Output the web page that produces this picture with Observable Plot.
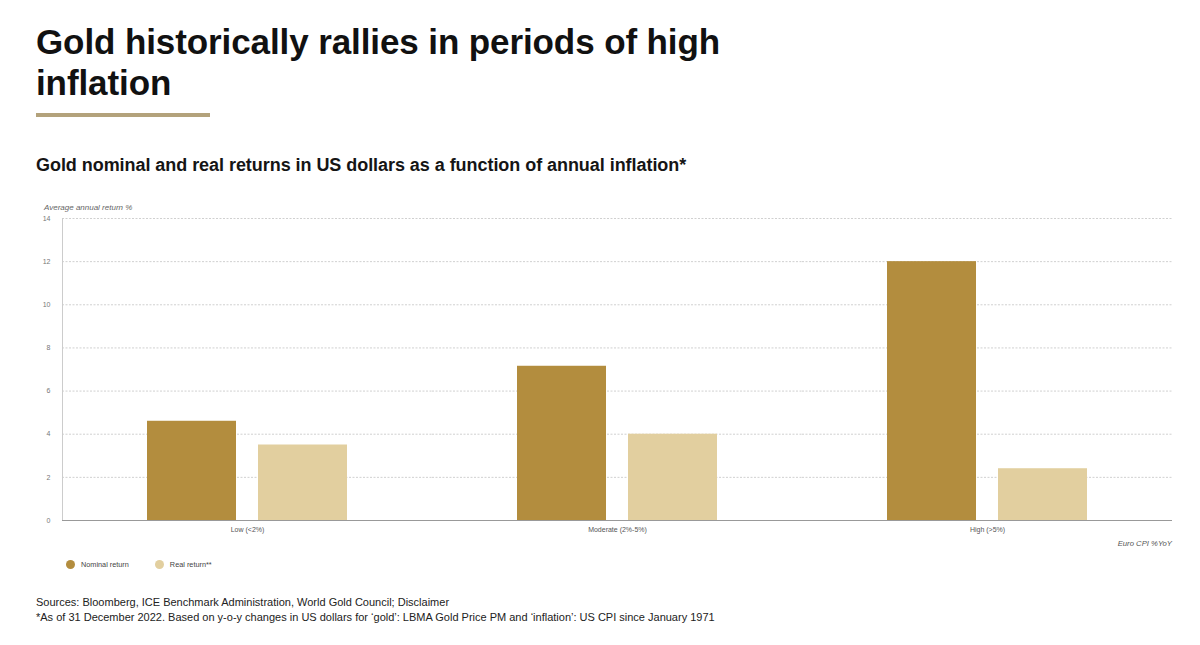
<!DOCTYPE html>
<html>
<head>
<meta charset="utf-8">
<script src="https://cdn.jsdelivr.net/npm/d3@7"></script>
<script src="https://cdn.jsdelivr.net/npm/@observablehq/plot@0.6"></script>
<style>
  html, body { margin: 0; padding: 0; background: #fff; }
  body { width: 1200px; height: 645px; position: relative; overflow: hidden; font-family: "Liberation Sans", Arial, sans-serif; color: #111; }
  .title { position: absolute; left: 36px; top: 21px; font-size: 35px; line-height: 41px; font-weight: bold; width: 720px; letter-spacing: -0.1px; }
  .rule { position: absolute; left: 36px; top: 113px; width: 174px; height: 4px; background: #b3a27b; }
  .subtitle { position: absolute; left: 36px; top: 155px; font-size: 18px; font-weight: bold; letter-spacing: -0.05px; color: #151515; }
  .ylab { position: absolute; left: 44px; top: 203px; font-size: 8px; font-style: italic; color: #666; }
  .xlab { position: absolute; right: 28px; top: 539px; font-size: 7.7px; font-style: italic; color: #555; }
  #chart { position: absolute; left: 0; top: 200px; }
  .legend { position: absolute; left: 66px; top: 560px; font-size: 7.3px; color: #444; display: flex; gap: 0; }
  .legend span.item { display: inline-flex; align-items: center; margin-right: 26px; }
  .legend span.sw { width: 9px; height: 9px; border-radius: 50%; display: inline-block; margin-right: 6px; }
  .notes { position: absolute; left: 36px; top: 595px; font-size: 11px; line-height: 15px; color: #222; }
</style>
</head>
<body>
<div class="title" id="title"></div>
<div class="rule"></div>
<div class="subtitle" id="subtitle"></div>
<div class="ylab" id="ylab"></div>
<div class="xlab" id="xlab"></div>
<div id="chart"></div>
<div class="legend" id="legend"></div>
<div class="notes" id="notes"></div>
<script>
const titleText = "Gold historically rallies in periods of high inflation";
const subtitleText = "Gold nominal and real returns in US dollars as a function of annual inflation*";
const yLabel = "Average annual return %";
const xLabel = "Euro CPI %YoY";
const groups = ["Low (<2%)", "Moderate (2%-5%)", "High (>5%)"];
const series = ["Nominal return", "Real return**"];
const nominal = [4.6, 7.15, 12.0];
const real = [3.5, 4.0, 2.4];
const colors = ["#b38d3e", "#e2cf9f"];
const yTicks = [0, 2, 4, 6, 8, 10, 12, 14];
const notes = [
  "Sources: Bloomberg, ICE Benchmark Administration, World Gold Council; Disclaimer",
  "*As of 31 December 2022. Based on y-o-y changes in US dollars for \u2018gold\u2019: LBMA Gold Price PM and \u2018inflation\u2019: US CPI since January 1971"
];

document.getElementById("title").textContent = titleText;
document.getElementById("subtitle").textContent = subtitleText;
document.getElementById("ylab").textContent = yLabel;
document.getElementById("xlab").textContent = xLabel;
document.getElementById("notes").innerHTML = notes.map(n => `<div>${n}</div>`).join("");
document.getElementById("legend").innerHTML = series.map((s, i) =>
  `<span class="item"><span class="sw" style="background:${colors[i]}"></span>${s}</span>`).join("");

const data = [];
groups.forEach((g, i) => {
  data.push({group: g, series: series[0], value: nominal[i]});
  data.push({group: g, series: series[1], value: real[i]});
});

const chart = Plot.plot({
  width: 1200,
  height: 350,
  marginLeft: 62,
  marginRight: 28,
  marginTop: 18,
  marginBottom: 30,
  style: {fontFamily: "Liberation Sans, Arial, sans-serif", background: "transparent"},
  fx: {domain: groups, padding: 0, label: null},
  x: {domain: series, paddingInner: 0.2, paddingOuter: 0.766, axis: null},
  y: {domain: [0, 14], label: null},
  color: {domain: series, range: colors},
  marks: [
    Plot.gridY(yTicks, {stroke: "#d0d0d0", strokeOpacity: 1, strokeDasharray: "2,1.5"}),
    Plot.frame({anchor: "left", stroke: "#ccc", facetAnchor: "left"}),
    Plot.axisY(yTicks, {tickSize: 0, tickPadding: 12, fontSize: 7, fill: "#777", label: null}),
    Plot.axisFx({anchor: "bottom", tickSize: 0, tickPadding: 7, fontSize: 7, fill: "#555", label: null}),
    Plot.barY(data, {fx: "group", x: "series", y: "value", fill: "series"}),
    Plot.ruleY([0], {stroke: "#999", strokeWidth: 1})
  ]
});
document.getElementById("chart").appendChild(chart);
</script>
</body>
</html>
